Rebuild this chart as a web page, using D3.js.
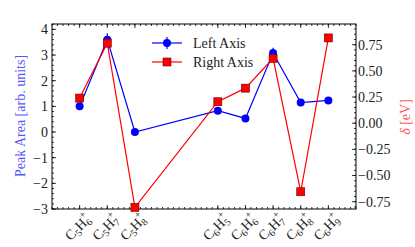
<!DOCTYPE html>
<html><head><meta charset="utf-8">
<script src="https://cdn.jsdelivr.net/npm/d3@7"></script>
<style>body{margin:0;background:#fff}svg{display:block}text{font-family:"Liberation Serif","DejaVu Serif",serif}</style>
</head><body><svg id="c" width="415" height="247"></svg>
<script>
const formulas = [["5","6"],["5","7"],["5","8"],["6","5"],["6","6"],["6","7"],["6","8"],["6","9"]];
const positions = [0,1,2,5,6,7,8,9];
const peakArea = [1.0, 3.6, 0.0, 0.83, 0.53, 3.08, 1.15, 1.23];
const peakErr  = [0.05, 0.25, 0.03, 0.05, 0.05, 0.2, 0.05, 0.05];
const delta    = [0.24, 0.765, -0.805, 0.205, 0.335, 0.62, -0.655, 0.815];
const leftTicks = [-3,-2,-1,0,1,2,3,4];
const rightTicks = [-0.75,-0.5,-0.25,0,0.25,0.5,0.75];

const svg = d3.select("#c");
const L=52, R=356, T=24, B=209;
const x = d3.scaleLinear().domain([-1,10]).range([L,R]);
const yL = d3.scaleLinear().domain([-3,4.21]).range([B,T]);
const yR = d3.scaleLinear().domain([-0.82,0.948]).range([B,T]);
const tc = "#222";
const FS = 14;

svg.append("rect").attr("x",L).attr("y",T).attr("width",R-L).attr("height",B-T)
  .attr("fill","none").attr("stroke","#000").attr("stroke-width",1);

const g = svg.append("g").attr("stroke","#000").attr("stroke-width",0.8);
d3.range(-1,10.001,0.2).forEach(v=>{
  const px = x(v);
  g.append("line").attr("x1",px).attr("x2",px).attr("y1",B).attr("y2",B-2);
  g.append("line").attr("x1",px).attr("x2",px).attr("y1",T).attr("y2",T+2);
});
positions.forEach(v=>{
  const px=x(v);
  g.append("line").attr("x1",px).attr("x2",px).attr("y1",B).attr("y2",B-4);
  g.append("line").attr("x1",px).attr("x2",px).attr("y1",T).attr("y2",T+4);
});
d3.range(-3,4.21,0.2).forEach(v=>{
  g.append("line").attr("x1",L).attr("x2",L+2).attr("y1",yL(v)).attr("y2",yL(v));
});
leftTicks.forEach(v=>{
  g.append("line").attr("x1",L).attr("x2",L+4).attr("y1",yL(v)).attr("y2",yL(v));
});
d3.range(-0.8,0.95,0.05).forEach(v=>{
  g.append("line").attr("x1",R).attr("x2",R-2).attr("y1",yR(v)).attr("y2",yR(v));
});
rightTicks.forEach(v=>{
  g.append("line").attr("x1",R).attr("x2",R-4).attr("y1",yR(v)).attr("y2",yR(v));
});

const fmtL = v => (v<0?"\u2212":"")+Math.abs(v);
const fmtR = v => (v<0?"\u2212":"")+Math.abs(v).toFixed(2);
leftTicks.forEach(v=>{
  svg.append("text").attr("x",L-4).attr("y",yL(v)).attr("dy","0.35em").attr("text-anchor","end")
    .attr("font-size",FS).attr("fill",tc).text(fmtL(v));
});
rightTicks.forEach(v=>{
  svg.append("text").attr("x",R+2).attr("y",yR(v)).attr("dy","0.35em").attr("text-anchor","start")
    .attr("font-size",FS).attr("fill",tc).text(fmtR(v));
});

positions.forEach((p,i)=>{
  const gg = svg.append("g").attr("transform",`translate(${x(p)+5},${B+4}) rotate(-45)`);
  const t = gg.append("text").attr("x",0).attr("y",10)
    .attr("text-anchor","end").attr("font-size",FS).attr("fill",tc);
  t.append("tspan").text("C");
  t.append("tspan").attr("font-size",10).attr("dy",3).text(formulas[i][0]);
  t.append("tspan").attr("dy",-3).text("H");
  t.append("tspan").attr("font-size",10).attr("dy",3).text(formulas[i][1]);
  t.append("tspan").attr("font-size",10).attr("dy",-10).attr("dx",-5).text("+");
});

svg.append("text").attr("transform","translate(20,116) rotate(-90)").attr("dy","0.35em")
  .attr("text-anchor","middle").attr("font-size",FS).attr("fill","#5555ff").text("Peak Area [arb. units]");
const rl = svg.append("text").attr("transform","translate(405,117) rotate(-90)").attr("dy","0.35em")
  .attr("text-anchor","middle").attr("font-size",FS).attr("fill","#ff5555");
rl.append("tspan").attr("font-style","italic").text("\u03b4");
rl.append("tspan").text(" [eV]");

const blue="#0000ff", red="#ff0000";
const lineL = d3.line().x((d,i)=>x(positions[i])).y(d=>yL(d));
svg.append("path").attr("d",lineL(peakArea)).attr("fill","none").attr("stroke",blue).attr("stroke-width",1.2);
peakArea.forEach((v,i)=>{
  svg.append("line").attr("x1",x(positions[i])).attr("x2",x(positions[i]))
    .attr("y1",yL(v-peakErr[i])).attr("y2",yL(v+peakErr[i])).attr("stroke",blue).attr("stroke-width",1.2);
  svg.append("circle").attr("cx",x(positions[i])).attr("cy",yL(v)).attr("r",4).attr("fill",blue);
});
const lineR = d3.line().x((d,i)=>x(positions[i])).y(d=>yR(d));
svg.append("path").attr("d",lineR(delta)).attr("fill","none").attr("stroke",red).attr("stroke-width",1.2);
delta.forEach((v,i)=>{
  svg.append("rect").attr("x",x(positions[i])-4).attr("y",yR(v)-4).attr("width",8).attr("height",8)
    .attr("fill",red).attr("stroke","#600").attr("stroke-width",0.6);
});

const lg = svg.append("g");
lg.append("line").attr("x1",152).attr("x2",182).attr("y1",43).attr("y2",43).attr("stroke",blue).attr("stroke-width",1.2);
lg.append("line").attr("x1",167).attr("x2",167).attr("y1",37).attr("y2",49).attr("stroke",blue).attr("stroke-width",1.2);
lg.append("circle").attr("cx",167).attr("cy",43).attr("r",4).attr("fill",blue);
lg.append("text").attr("x",193).attr("y",43).attr("dy","0.35em").attr("font-size",FS).attr("fill",tc).text("Left Axis");
lg.append("line").attr("x1",152).attr("x2",182).attr("y1",62).attr("y2",62).attr("stroke",red).attr("stroke-width",1.2);
lg.append("rect").attr("x",163).attr("y",58).attr("width",8).attr("height",8).attr("fill",red).attr("stroke","#600").attr("stroke-width",0.6);
lg.append("text").attr("x",193).attr("y",62).attr("dy","0.35em").attr("font-size",FS).attr("fill",tc).text("Right Axis");
</script></body></html>
